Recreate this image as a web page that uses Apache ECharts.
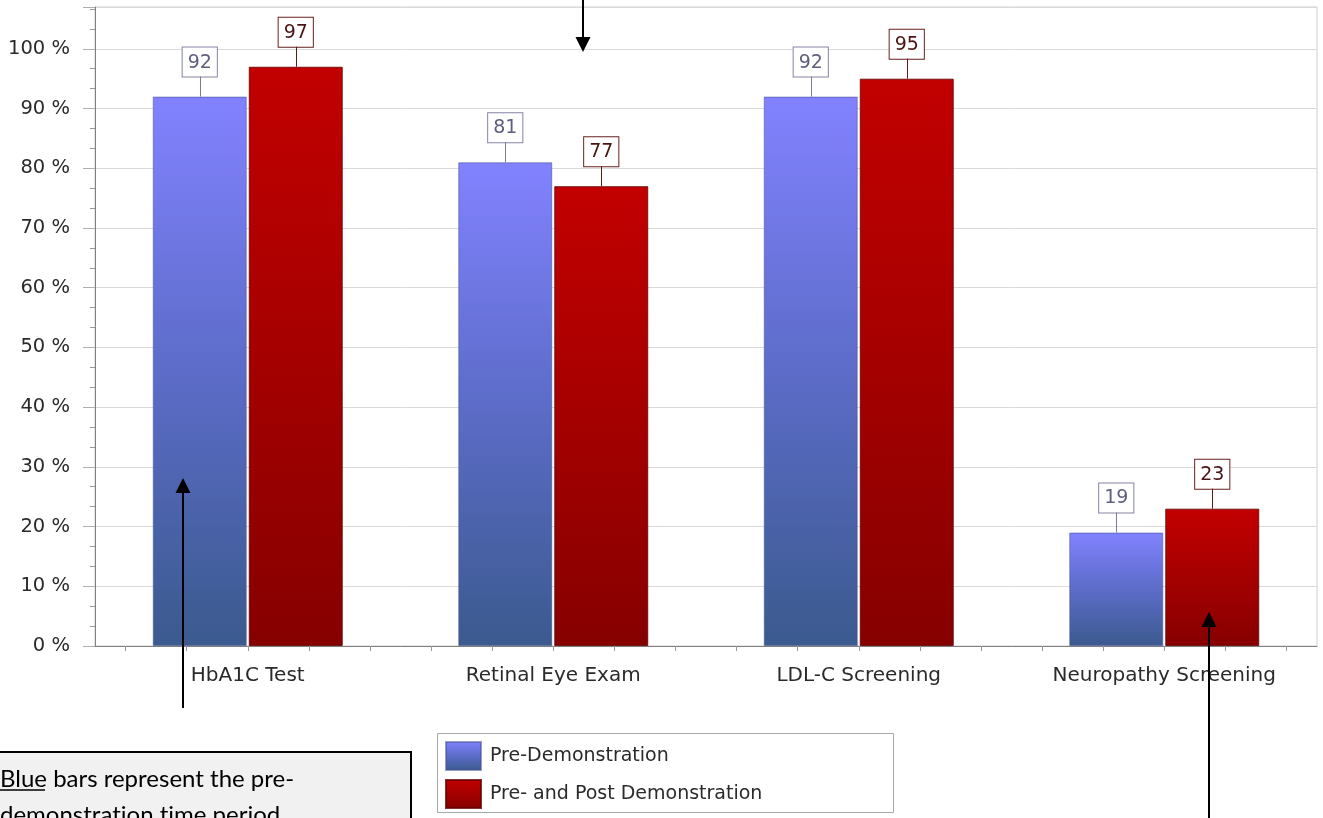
<!DOCTYPE html>
<html>
<head>
<meta charset="utf-8">
<script src="https://cdn.jsdelivr.net/npm/echarts@6/dist/echarts.min.js"></script>
<style>
  html, body { margin: 0; padding: 0; background: #ffffff; }
  #chart { width: 1323px; height: 818px; }
</style>
</head>
<body>
<div id="chart"></div>
<script>
// Screening measures shown along the category axis
const categories = ['HbA1C Test', 'Retinal Eye Exam', 'LDL-C Screening', 'Neuropathy Screening'];
// Percent of patients screened in each period
const preValues = [92, 81, 92, 19];
const prePostValues = [97, 77, 95, 23];
const seriesNames = ['Pre-Demonstration', 'Pre- and Post Demonstration'];
// Y axis tick labels (percent steps)
const yTickValues = [0, 10, 20, 30, 40, 50, 60, 70, 80, 90, 100];
// Minor tick slots along the category axis (5 per category)
const minorSlots = new Array(categories.length * 5).fill('');

// Drawing constants
const BAR_W = 94;
const BAR_GAP_PX = 2;
const LEADER_LEN = 20;
const FONT = '"DejaVu Sans", Verdana, sans-serif';
const NOTE_FONT = '24px Lato, "Open Sans", sans-serif';

const chart = echarts.init(document.getElementById('chart'));

function leaderSeries(values, side, color) {
  return {
    type: 'custom',
    xAxisIndex: 0,
    yAxisIndex: 0,
    silent: true,
    z: 3,
    data: values.map((v, i) => [i, v]),
    encode: { x: 0, y: 1 },
    renderItem(params, api) {
      const pt = api.coord([api.value(0), api.value(1)]);
      const x = Math.round(pt[0] + side * (BAR_W + BAR_GAP_PX) / 2) + 0.5;
      return {
        type: 'line',
        shape: { x1: x, y1: pt[1], x2: x, y2: pt[1] - LEADER_LEN },
        style: { stroke: color, lineWidth: 1 }
      };
    }
  };
}

function valueLabel(textColor, borderColor) {
  return {
    show: true,
    position: 'top',
    distance: LEADER_LEN,
    formatter: '{c}',
    fontFamily: FONT,
    fontSize: 19,
    lineHeight: 22,
    color: textColor,
    backgroundColor: '#ffffff',
    borderColor: borderColor,
    borderWidth: 1,
    padding: [4, 5, 3, 5]
  };
}

function arrow(x, yTail, yTip, dir) {
  // dir = 1 → head points down, -1 → head points up
  const headLen = 15, halfW = 7.5;
  return [
    {
      type: 'line', z: 50,
      shape: { x1: x, y1: yTail, x2: x, y2: yTip - dir * headLen + dir * 2 },
      style: { stroke: '#000', lineWidth: 2 }
    },
    {
      type: 'polygon', z: 50,
      shape: { points: [[x, yTip], [x - halfW, yTip - dir * headLen], [x + halfW, yTip - dir * headLen]] },
      style: { fill: '#000' }
    }
  ];
}

const option = {
  backgroundColor: '#ffffff',
  animation: false,
  grid: {
    left: 95, right: 6, top: 7, bottom: 172,
    show: true, borderColor: '#cfcfcf', borderWidth: 1, backgroundColor: 'transparent'
  },
  legend: {
    data: seriesNames,
    orient: 'vertical',
    left: 445,
    top: 741,
    padding: 0,
    itemGap: 8,
    itemWidth: 35,
    itemHeight: 28,
    icon: 'rect',
    z: 20,
    textStyle: { fontFamily: FONT, fontSize: 19, color: '#2a2a2a', padding: [0, 0, 0, 4] }
  },
  xAxis: [
    {
      type: 'category',
      position: 'bottom',
      data: categories,
      axisLine: { show: true, lineStyle: { color: '#808080', width: 1 } },
      axisTick: { show: false },
      axisLabel: { fontFamily: FONT, fontSize: 20, color: '#2a2a2a', margin: 20 },
      splitLine: { show: false }
    },
    {
      type: 'category',
      position: 'bottom',
      data: minorSlots,
      axisLine: { show: false },
      axisLabel: { show: false },
      axisTick: { show: true, alignWithLabel: true, length: 5, lineStyle: { color: '#9a9a9a' } },
      splitLine: { show: false }
    }
  ],
  yAxis: {
    type: 'value',
    min: 0,
    max: 107,
    interval: 10,
    axisLine: { show: true, lineStyle: { color: '#808080', width: 1 } },
    axisTick: { show: true, length: 12, lineStyle: { color: '#b0b0b0' } },
    minorTick: { show: true, splitNumber: 3, length: 5, lineStyle: { color: '#9a9a9a' } },
    splitLine: { show: true, lineStyle: { color: '#dadada', width: 1 } },
    axisLabel: {
      fontFamily: FONT, fontSize: 19.5, color: '#2a2a2a', margin: 25,
      formatter: v => (yTickValues.indexOf(v) >= 0 ? v + ' %' : '')
    }
  },
  series: [
    {
      name: seriesNames[0],
      type: 'bar',
      data: preValues,
      barWidth: BAR_W,
      barGap: (BAR_GAP_PX / BAR_W * 100).toFixed(2) + '%',
      z: 2,
      itemStyle: {
        color: new echarts.graphic.LinearGradient(0, 0, 0, 1, [
          { offset: 0, color: '#8282ff' },
          { offset: 0.5, color: '#5c6cc8' },
          { offset: 1, color: '#3b5a8e' }
        ]),
        borderColor: 'rgba(70,80,150,0.55)',
        borderWidth: 1
      },
      label: valueLabel('#5e5e7e', '#8484a4')
    },
    {
      name: seriesNames[1],
      type: 'bar',
      data: prePostValues,
      barWidth: BAR_W,
      z: 2,
      itemStyle: {
        color: new echarts.graphic.LinearGradient(0, 0, 0, 1, [
          { offset: 0, color: '#c20000' },
          { offset: 0.5, color: '#a50000' },
          { offset: 1, color: '#860000' }
        ]),
        borderColor: 'rgba(100,0,0,0.8)',
        borderWidth: 1
      },
      label: valueLabel('#4a1414', '#6a2020')
    },
    leaderSeries(preValues, -1, '#7a7a9a'),
    leaderSeries(prePostValues, 1, '#5a1a1a')
  ],
  graphic: [
    // legend frame
    {
      type: 'rect', z: 1,
      shape: { x: 437.5, y: 733.5, width: 456, height: 79 },
      style: { fill: '#ffffff', stroke: '#a8a8a8', lineWidth: 1 }
    },
    // explanatory note box
    {
      type: 'rect', z: 40,
      shape: { x: -3, y: 752, width: 414, height: 90 },
      style: { fill: '#f1f1f1', stroke: '#000000', lineWidth: 2 }
    },
    {
      type: 'text', z: 41,
      style: {
        text: 'Blue bars represent the pre-',
        x: 0, y: 779, verticalAlign: 'middle',
        font: NOTE_FONT, fill: '#000'
      }
    },
    {
      type: 'line', z: 41,
      shape: { x1: 0, y1: 790, x2: 45, y2: 790 },
      style: { stroke: '#000', lineWidth: 1.5 }
    },
    {
      type: 'text', z: 41,
      style: {
        // zero-width non-joiners keep "t" and "i" as separate glyphs
        text: 'demonstrat\u200Cion t\u200Cime period.',
        x: 0, y: 815, verticalAlign: 'middle',
        font: NOTE_FONT, fill: '#000'
      }
    },
    ...arrow(583, 0, 52, 1),
    ...arrow(183, 708, 478, -1),
    ...arrow(1209, 830, 612, -1)
  ]
};

chart.setOption(option);
</script>
</body>
</html>
